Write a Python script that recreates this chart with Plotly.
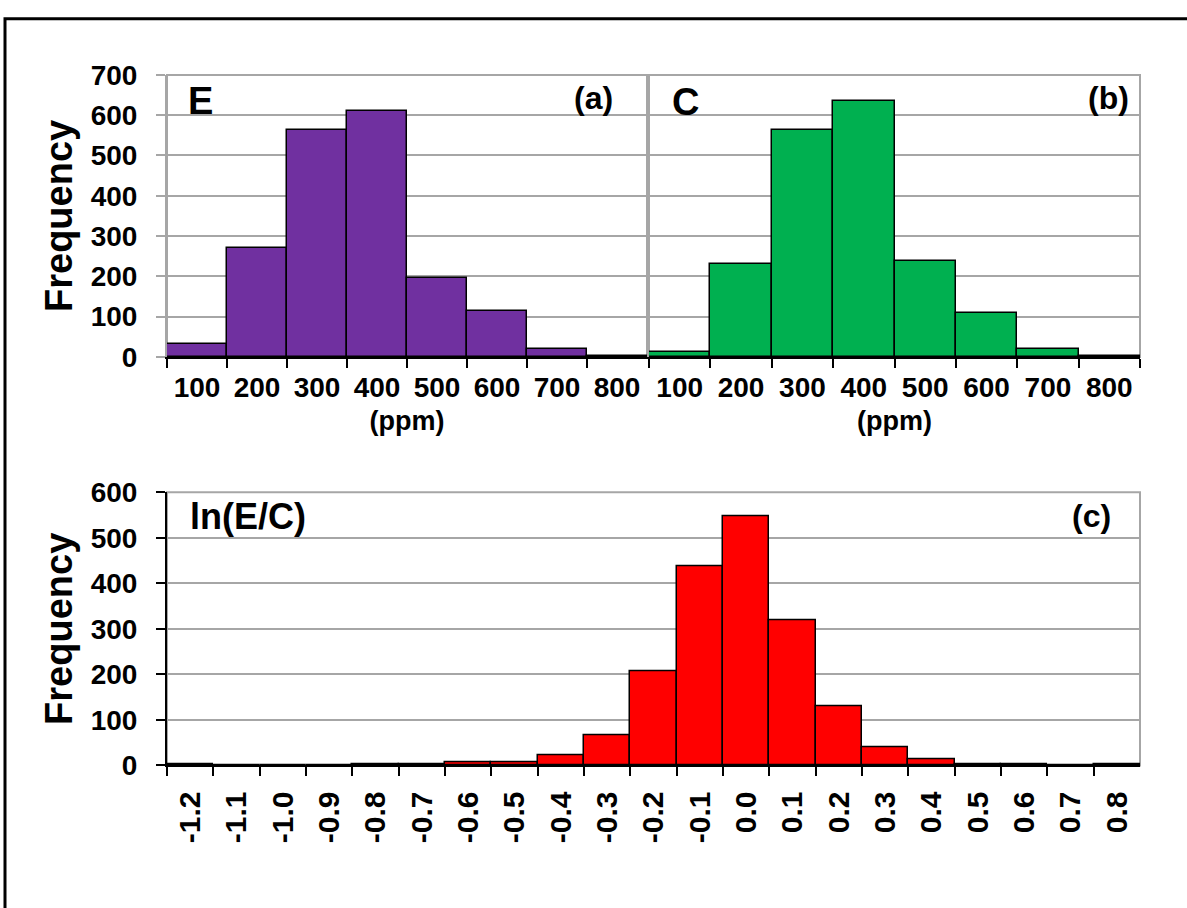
import plotly.graph_objects as go

# ---------------- data ----------------
ppm_bins = ["100", "200", "300", "400", "500", "600", "700", "800"]
freq_E = [32, 271, 563, 610, 197, 114, 21, 3]
freq_C = [13, 230, 563, 636, 239, 109, 19, 2]

ln_bins = ["-1.2", "-1.1", "-1.0", "-0.9", "-0.8", "-0.7", "-0.6", "-0.5", "-0.4",
           "-0.3", "-0.2", "-0.1", "0.0", "0.1", "0.2", "0.3", "0.4", "0.5",
           "0.6", "0.7", "0.8"]
freq_ln = [2, 0, 0, 0, 2, 4, 8, 8, 23, 66, 206, 438, 548, 319, 131, 41, 13, 4, 2, 0, 2]

yticks_top = [0, 100, 200, 300, 400, 500, 600, 700]
yticks_bot = [0, 100, 200, 300, 400, 500, 600]

# ---------------- layout geometry ----------------
W, H = 1187, 908
def px(x):
    return x / W
def py(y):
    return 1 - y / H

FONT = "Arial, Liberation Sans, sans-serif"
GRID = "#A6A6A6"
tickfont = dict(family=FONT, size=28, color="black", weight="bold")
tickfont_c = dict(family=FONT, size=30, color="black", weight="bold")
title_font = dict(family=FONT, size=38, color="black", weight="bold")
ppm_font = dict(family=FONT, size=27, color="black", weight="bold")

fig = go.Figure()

bar_line = dict(color="black", width=1.5)
fig.add_trace(go.Bar(x=ppm_bins, y=freq_E, marker=dict(color="#7030A0", line=bar_line),
                     xaxis="x", yaxis="y", showlegend=False))
fig.add_trace(go.Bar(x=ppm_bins, y=freq_C, marker=dict(color="#00B050", line=bar_line),
                     xaxis="x2", yaxis="y2", showlegend=False))
fig.add_trace(go.Bar(x=ln_bins, y=freq_ln, marker=dict(color="#FF0000", line=bar_line),
                     xaxis="x3", yaxis="y3", showlegend=False))

def xaxis_style(**extra):
    d = dict(type="category", showline=True, linecolor="black", linewidth=2,
             ticks="outside", tickson="boundaries", ticklen=9, tickwidth=1.5,
             tickcolor="black", tickfont=tickfont, showgrid=False, zeroline=False,
             fixedrange=True)
    d.update(extra)
    return d

top_y0, top_y1 = py(354), py(62)
bot_y0, bot_y1 = py(777), py(494)

fig.update_layout(
    width=W, height=H,
    margin=dict(l=0, r=0, t=0, b=0),
    paper_bgcolor="white", plot_bgcolor="white",
    bargap=0,
    xaxis=xaxis_style(domain=[px(167), px(647)], anchor="y", ticklabelstandoff=4,
                      title=dict(text="(ppm)", font=ppm_font, standoff=10)),
    xaxis2=xaxis_style(domain=[px(649), px(1140)], anchor="y2", ticklabelstandoff=4,
                       title=dict(text="(ppm)", font=ppm_font, standoff=10)),
    xaxis3=xaxis_style(domain=[px(167), px(1140)], anchor="y3", tickangle=-90,
                       tickfont=tickfont_c, ticklabelstandoff=12),
    yaxis=dict(domain=[top_y0, top_y1], anchor="x", range=[0, 700], tickvals=yticks_top,
               showline=True, linecolor=GRID, linewidth=2, ticks="outside", ticklen=9,
               tickcolor=GRID, tickwidth=2, tickfont=tickfont, showgrid=True,
               gridcolor=GRID, gridwidth=2, zeroline=False, ticklabelstandoff=13,
               fixedrange=True,
               title=dict(text="Frequency", font=title_font, standoff=6)),
    yaxis2=dict(domain=[top_y0, top_y1], anchor="x2", range=[0, 700], tickvals=yticks_top,
                showticklabels=False, showline=True, linecolor=GRID, linewidth=2,
                ticks="", showgrid=True, gridcolor=GRID, gridwidth=2, zeroline=False,
                fixedrange=True),
    yaxis3=dict(domain=[bot_y0, bot_y1], anchor="x3", range=[0, 600], tickvals=yticks_bot,
                showline=True, linecolor="black", linewidth=2, ticks="outside", ticklen=9,
                tickcolor="black", tickwidth=2, tickfont=tickfont, showgrid=True,
                gridcolor=GRID, gridwidth=2, zeroline=False, ticklabelstandoff=13,
                fixedrange=True,
                title=dict(text="Frequency", font=title_font, standoff=6)),
)

# grey frames around plot areas
for xr, yr in [("x domain", "y domain"), ("x2 domain", "y2 domain"), ("x3 domain", "y3 domain")]:
    fig.add_shape(type="rect", xref=xr, yref=yr, x0=0, x1=1, y0=0, y1=1,
                  line=dict(color=GRID, width=2), layer="below")

# outer black border (open at right/bottom like the reference crop)
fig.add_shape(type="rect", xref="paper", yref="paper", x0=px(5), x1=1.02, y0=-0.02, y1=py(4),
              line=dict(color="black", width=3))

ann_font = dict(family=FONT, size=38, color="black", weight="bold")
lab_font = dict(family=FONT, size=32, color="black", weight="bold")
annotations = [
    dict(text="E", x=px(186), y=py(65), xanchor="left", yanchor="top", font=ann_font),
    dict(text="(a)", x=px(615), y=py(65), xanchor="right", yanchor="top", font=lab_font),
    dict(text="C", x=px(670), y=py(66), xanchor="left", yanchor="top", font=ann_font),
    dict(text="(b)", x=px(1131), y=py(65), xanchor="right", yanchor="top", font=lab_font),
    dict(text="ln(E/C)", x=px(188), y=py(496), xanchor="left", yanchor="top",
         font=dict(family=FONT, size=36, color="black", weight="bold")),
    dict(text="(c)", x=px(1113), y=py(498), xanchor="right", yanchor="top", font=lab_font),
]
for a in annotations:
    fig.add_annotation(xref="paper", yref="paper", showarrow=False, **a)

fig.write_html("out.html", post_script="document.body.style.margin='0px';")
